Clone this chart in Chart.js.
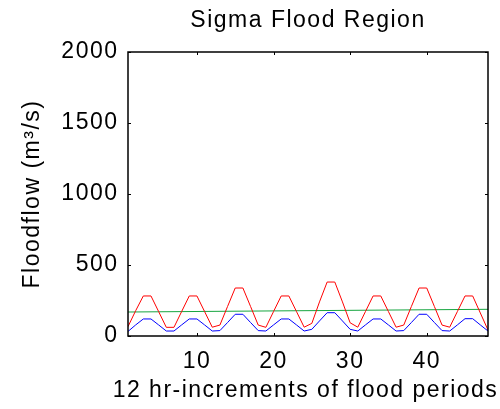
<!DOCTYPE html>
<html><head><meta charset="utf-8">
<script src="https://cdn.jsdelivr.net/npm/chart.js@4.4.1/dist/chart.umd.min.js"></script>
<style>html,body{margin:0;padding:0;background:#fff;}canvas{display:block}</style>
</head><body>
<canvas id="c" width="500" height="409" style="width:500px;height:409px"></canvas>
<script>
const periods = [1,2,3,4,5,6,7,8,9,10,11,12,13,14,15,16,17,18,19,20,21,22,23,24,25,26,27,28,29,30,31,32,33,34,35,36,37,38,39,40,41,42,43,44,45,46,47,48];
const redFlow = [66,178,282,282,172,61,61,172,282,282,172,62,77,208,338,338,208,77,61,172,282,282,172,62,89,240,380,380,240,93,62,172,282,282,172,62,77,208,338,338,208,77,62,172,282,282,162,42];
const blueFlow = [32,78,120,120,78,35,35,78,120,120,78,35,38,95,153,153,95,38,35,78,120,120,78,35,47,106,164,164,106,47,35,78,120,120,78,35,38,95,153,153,95,38,35,78,122,122,78,35];
const greenPeriods = [1,48];
const greenFlow = [169,188];
const xTickValues = [10,20,30,40];
const yTickValues = [0,500,1000,1500,2000];
const chartTitle = 'Sigma Flood Region';
const xTitle = '12 hr-increments of flood periods';
const yTitle = 'Floodflow (m³/s)';

const FONT = {family:"'Liberation Sans', Arial, sans-serif", size:23, weight:'normal'};
const FONT_CSS = "normal 23px 'Liberation Sans', Arial, sans-serif";
const LS = '1.5px';
const spacing = {
  id:'spacing',
  beforeUpdate(c){ c.ctx.letterSpacing = LS; },
  beforeDraw(c){ c.ctx.letterSpacing = LS; }
};
const frame = {
  id:'frame',
  afterDraw(c){
    const {ctx, chartArea:a, scales:{x, y}} = c;
    ctx.save();
    ctx.strokeStyle = '#000';
    ctx.lineWidth = 1.5;
    ctx.strokeRect(a.left, a.top, a.right - a.left, a.bottom - a.top);
    ctx.lineWidth = 1;
    const L = 3;
    ctx.beginPath();
    xTickValues.forEach(v => {
      const px = Math.round(x.getPixelForValue(v)) + 0.5;
      ctx.moveTo(px, a.bottom); ctx.lineTo(px, a.bottom - L);
      ctx.moveTo(px, a.top); ctx.lineTo(px, a.top + L);
    });
    yTickValues.forEach(v => {
      const py = Math.round(y.getPixelForValue(v)) + 0.5;
      ctx.moveTo(a.left, py); ctx.lineTo(a.left + L, py);
      ctx.moveTo(a.right, py); ctx.lineTo(a.right - L, py);
    });
    ctx.stroke();
    // x-axis title (drawn without Chart.js maxWidth squeeze)
    ctx.letterSpacing = LS;
    ctx.font = FONT_CSS;
    ctx.fillStyle = '#000';
    ctx.textAlign = 'center';
    ctx.textBaseline = 'middle';
    ctx.fillText(xTitle, (x.left + x.right) / 2 - 2.5, x.bottom - 18.2);
    ctx.restore();
  }
};

const toPts = (xs, ys) => xs.map((v, i) => ({x: v, y: ys[i]}));
const line = (data, color) => ({data, borderColor: color, backgroundColor: color, borderWidth: 1, pointRadius: 0, tension: 0, fill: false});

new Chart(document.getElementById('c'), {
  type: 'line',
  data: {datasets: [
    line(toPts(periods, redFlow), '#ff0000'),
    line(toPts(periods, blueFlow), '#0000ff'),
    line(toPts(greenPeriods, greenFlow), '#17a540')
  ]},
  options: {
    responsive: false, animation: false, devicePixelRatio: 1,
    layout: {padding: {left: 0, right: 12, top: 0, bottom: 0}},
    plugins: {
      legend: {display: false}, tooltip: {enabled: false},
      title: {display: true, text: chartTitle, fullSize: false, color: '#000', font: FONT, padding: {top: 6.9, bottom: 17.5}}
    },
    scales: {
      x: {
        type: 'linear', min: 1, max: 48,
        afterBuildTicks: s => { s.ticks = xTickValues.map(v => ({value: v})); },
        afterFit: s => { s.height = 73; },
        ticks: {padding: 11.7, color: '#000', font: FONT, maxRotation: 0, autoSkip: false, callback: v => String(v)},
        grid: {display: false, drawTicks: false}, border: {display: false},
        title: {display: false, text: xTitle}
      },
      y: {
        type: 'linear', min: 0, max: 2000,
        afterBuildTicks: s => { s.ticks = yTickValues.map(v => ({value: v})); },
        afterFit: s => { s.width = 128; },
        ticks: {padding: 9.5, color: '#000', font: FONT, callback: v => String(v)},
        grid: {display: false, drawTicks: false}, border: {display: false},
        title: {display: true, text: yTitle, color: '#000', font: FONT, padding: {top: 18.7, bottom: 0}}
      }
    }
  },
  plugins: [spacing, frame]
});
</script>
</body></html>
